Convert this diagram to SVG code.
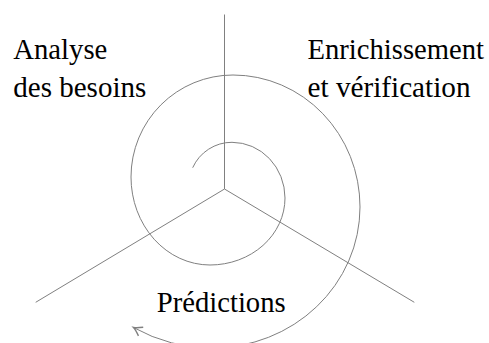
<svg xmlns="http://www.w3.org/2000/svg" width="489" height="343" viewBox="0 0 489 343">
<style>
.ln{fill:none;stroke:#808080;stroke-width:1}
</style>
<defs>
<marker id="arr" markerUnits="userSpaceOnUse" markerWidth="14" markerHeight="14" refX="0" refY="0" viewBox="-8 -5 10 10" orient="auto">
<path d="M-6,-3.5 Q-2,-0.6 0,0 Q-2,0.6 -6,3.5" fill="none" stroke="#808080" stroke-width="1"/>
</marker>
</defs>
<rect width="489" height="343" fill="#fff"/>
<g id="connectors">
<line class="ln" x1="224.5" y1="14.5" x2="224.5" y2="189"/>
<line class="ln" x1="224.5" y1="189" x2="35.7" y2="302.3"/>
<line class="ln" x1="224.5" y1="189" x2="414.3" y2="302.3"/>
<path id="spiral" class="ln" marker-end="url(#arr)" d="M192.7 167.7 A43.1 43.1 0 0 1 232 142.3 A53 55.7 0 0 1 285 198 A75 67 0 0 1 210 265 A79 88 0 0 1 131 177 A102 102 0 0 1 233 75 A127 132 0 0 1 360 207 A148 141 0 0 1 212 348 A162 162 0 0 1 133.5 327.5"/>
</g>
<g id="analyse" font-family="Liberation Serif, Times New Roman, Times, serif" font-size="28.7" fill="#000"><text x="13.3" y="59.3" textLength="94" lengthAdjust="spacingAndGlyphs">Analyse</text><text x="13.3" y="96.7" textLength="133" lengthAdjust="spacingAndGlyphs">des besoins</text></g>
<g id="enrichissement" font-family="Liberation Serif, Times New Roman, Times, serif" font-size="28.7" fill="#000"><text x="307.5" y="59.3" textLength="176.5" lengthAdjust="spacingAndGlyphs">Enrichissement</text><text x="307.5" y="96.7" textLength="163" lengthAdjust="spacingAndGlyphs">et vérification</text></g>
<g id="predictions" font-family="Liberation Serif, Times New Roman, Times, serif" font-size="28.7" fill="#000"><text x="156.7" y="311.7" textLength="129" lengthAdjust="spacingAndGlyphs">Prédictions</text></g>
</svg>
